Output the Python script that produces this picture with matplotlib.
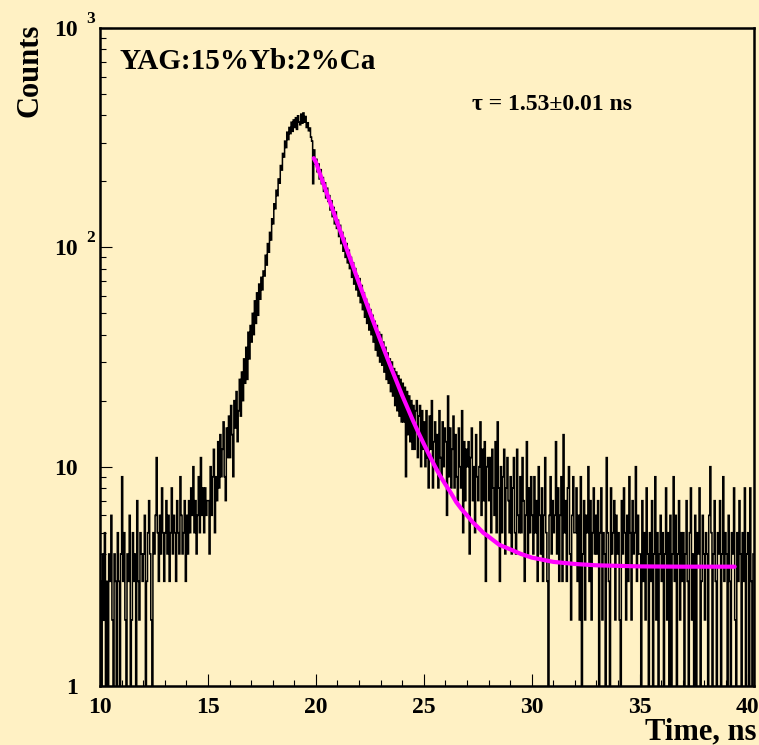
import numpy as np
import matplotlib
matplotlib.use('Agg')
import matplotlib.pyplot as plt
import matplotlib.transforms as mtransforms
from matplotlib.ticker import FixedLocator, LogLocator, NullFormatter, MultipleLocator

plt.rcParams['font.family'] = ['Liberation Serif', 'DejaVu Serif']
plt.rcParams['font.weight'] = 'bold'

# Histogram, 0.05 ns bins starting at 10 ns
counts_10_15 = [3, 0, 4, 2, 5, 1, 3, 0, 4, 3, 6, 2, 0, 4, 3, 1, 5, 3, 0, 4,
                9, 3, 5, 2, 0, 4, 3, 6, 0, 2, 5, 3, 4, 1, 7, 3, 2, 5, 4, 3,
                4, 6, 0, 3, 5, 7, 4, 2, 1, 5, 4, 6, 11, 5, 3, 6, 4, 8, 5, 3,
                5, 7, 4, 6, 3, 5, 8, 4, 6, 5, 3, 7, 5, 4, 9, 6, 4, 5, 7, 3,
                6, 4, 7, 5, 8, 6, 10, 5, 7, 4, 6, 9, 5, 11, 6, 8, 5, 8, 6, 7]
counts_15_20 = [7, 4, 10, 6, 9, 12, 5, 9, 7, 13,
                8, 14, 9, 12, 16, 9, 7, 15, 11, 17,
                11, 19, 14, 9, 20, 15, 22, 13, 18, 25,
                17, 27, 20, 31, 24, 35, 25, 41, 31, 44,
                37, 50, 40, 57, 45, 62, 49, 68, 58, 73,
                64, 78, 74, 92, 83, 104, 95, 117, 108, 135,
                128, 158, 150, 182, 172, 205, 196, 236, 225, 268,
                258, 305, 285, 335, 310, 352, 330, 372, 338, 381,
                352, 390, 345, 398, 372, 362, 405, 368, 410, 372,
                395, 352, 370, 340, 350, 318, 305, 195, 278, 240]
counts_20_25 = [252, 221, 240, 205, 226, 195, 208, 180, 197, 168,
                186, 162, 172, 148, 163, 138, 152, 128, 145, 122,
                133, 112, 126, 104, 117, 96, 110, 90, 104, 85,
                97, 80, 90, 73, 85, 68, 80, 64, 74, 60,
                72, 56, 67, 52, 62, 48, 58, 45, 55, 42,
                52, 40, 49, 37, 46, 34, 44, 32, 41, 30,
                40, 29, 37, 27, 35, 25, 33, 24, 31, 22,
                30, 21, 28, 19, 27, 18, 26, 17, 25, 16,
                24, 16, 23, 9, 22, 14, 21, 13, 20, 12,
                19, 12, 18, 20, 11, 17, 19, 10, 18, 12]
counts_25_30 = [16, 10, 18, 11, 8, 17, 12, 20, 8, 13, 16, 10, 14, 8, 18, 11, 9, 16, 10, 15,
                13, 6, 21, 9, 15, 8, 12, 17, 8, 14, 9, 7, 15, 10, 8, 18, 5, 13, 7, 12,
                10, 13, 4, 11, 15, 7, 10, 5, 14, 9, 7, 10, 16, 6, 12, 7, 13, 3, 10, 11,
                7, 11, 5, 12, 8, 6, 13, 5, 16, 8, 3, 10, 5, 9, 12, 4, 8, 11, 7, 5,
                9, 4, 8, 11, 5, 4, 12, 6, 5, 9, 5, 11, 7, 3, 6, 13, 4, 8, 5, 9]
counts_30_35 = [6, 4, 9, 5, 7, 3, 10, 6, 4, 8, 3, 6, 11, 5, 3, 0, 6, 9, 4, 7,
                5, 6, 13, 4, 8, 3, 6, 9, 3, 14, 5, 7, 3, 8, 10, 4, 2, 6, 9, 5,
                5, 8, 3, 6, 2, 9, 0, 4, 7, 2, 6, 5, 10, 3, 7, 2, 5, 8, 4, 6,
                4, 7, 1, 5, 8, 2, 5, 4, 0, 11, 5, 3, 1, 8, 4, 5, 7, 2, 6, 4,
                5, 2, 0, 7, 4, 8, 5, 2, 6, 3, 9, 5, 2, 7, 4, 5, 10, 3, 6, 4]
counts_35_40 = [4, 0, 7, 3, 5, 2, 8, 4, 1, 5, 3, 7, 0, 4, 9, 2, 5, 1, 4, 6,
                3, 5, 0, 4, 8, 2, 5, 1, 6, 1, 4, 9, 3, 6, 0, 4, 7, 2, 5, 3,
                5, 1, 4, 7, 3, 0, 5, 8, 2, 4, 1, 6, 1, 5, 4, 8, 0, 3, 6, 4,
                2, 5, 4, 0, 6, 10, 5, 1, 4, 7, 3, 0, 5, 4, 7, 1, 4, 9, 3, 5,
                4, 0, 6, 3, 1, 5, 4, 8, 2, 0, 5, 3, 7, 4, 1, 5, 3, 8, 0, 4,
                5, 1, 8, 3, 0, 4]

# fit curve (exp decay + constant)
fit_t = [19.9, 20.0, 20.5, 21.0, 21.5, 22.0, 22.5, 23.0, 23.5, 24.0, 24.25, 24.5, 24.75,
         25.0, 25.25, 25.5, 25.75, 26.0, 26.25, 26.5, 26.75, 27.0, 27.25, 27.5, 27.75,
         28.0, 28.5, 29.0, 29.5, 30.0, 31.0, 32.0, 33.0, 34.0, 35.0, 37.0, 39.4]
fit_y = [255, 244.5, 177.3, 128.9, 93.9, 68.7, 50.5, 37.4, 28.0, 21.1, 18.5, 16.2, 14.3,
         12.7, 11.3, 10.1, 9.1, 8.3, 7.6, 6.9, 6.4, 6.0, 5.6, 5.3, 5.0,
         4.8, 4.4, 4.2, 4.0, 3.85, 3.68, 3.6, 3.55, 3.53, 3.51, 3.5, 3.5]

counts = np.array(counts_10_15 + counts_15_20 + counts_20_25 +
                  counts_25_30 + counts_30_35 + counts_35_40, dtype=float)
edges = 10 + 0.05 * np.arange(len(counts) + 1)

bg = '#FFF1C4'
fig = plt.figure(figsize=(7.59, 7.45), dpi=100, facecolor=bg)
ax = fig.add_axes([0.1318, 0.0792, 0.8617, 0.8832], facecolor=bg)

ax.set_yscale('log', nonpositive='clip')
ax.stairs(counts, edges, baseline=None, color='black', lw=1.1)
ax.plot(fit_t, fit_y, color='#FF00FF', lw=3, solid_capstyle='round')

ax.set_xlim(10, 40.3)
ax.set_ylim(1, 1000)

for s in ax.spines.values():
    s.set_linewidth(1.8)

ax.xaxis.set_major_locator(MultipleLocator(5))
ax.xaxis.set_minor_locator(MultipleLocator(1))
ax.yaxis.set_major_locator(FixedLocator([1, 10, 100, 1000]))
ax.yaxis.set_minor_locator(LogLocator(base=10, subs=range(2, 10)))
ax.yaxis.set_minor_formatter(NullFormatter())
ax.set_yticklabels(['1', '10', '10', '10'])
ax.tick_params(which='both', direction='in', top=False, right=False, width=0.8,
               labelsize=17)
ax.tick_params(which='major', length=8.5)
ax.tick_params(which='minor', length=4)
ax.tick_params(axis='y', pad=16)
ax.tick_params(axis='x', pad=8)
for lab in ax.get_xticklabels() + ax.get_yticklabels():
    lab.set_fontweight('bold')

# ROOT style exponents next to the "10" labels
tr = mtransforms.blended_transform_factory(ax.transAxes, ax.transData)
tr = mtransforms.offset_copy(tr, fig=fig, y=9, units='dots')
for val, ex in [(100, '2'), (1000, '3')]:
    ax.text(-0.0214, val, ex, transform=tr, ha='left', va='center',
            fontsize=12.5, fontweight='bold')

fig.text(0.0395, 0.968, 'Counts', rotation=90, ha='center', va='top',
         fontsize=22, fontweight='bold')
fig.text(0.997, 0.008, 'Time, ns', ha='right', va='baseline',
         fontsize=22, fontweight='bold')
fig.text(0.158, 0.907, 'YAG:15%Yb:2%Ca', ha='left', va='baseline',
         fontsize=21, fontweight='bold')
fig.text(0.622, 0.852, 'τ = 1.53±0.01 ns', ha='left', va='baseline',
         fontsize=17, fontweight='bold')

fig.savefig('out.png', dpi=100, facecolor=bg)
